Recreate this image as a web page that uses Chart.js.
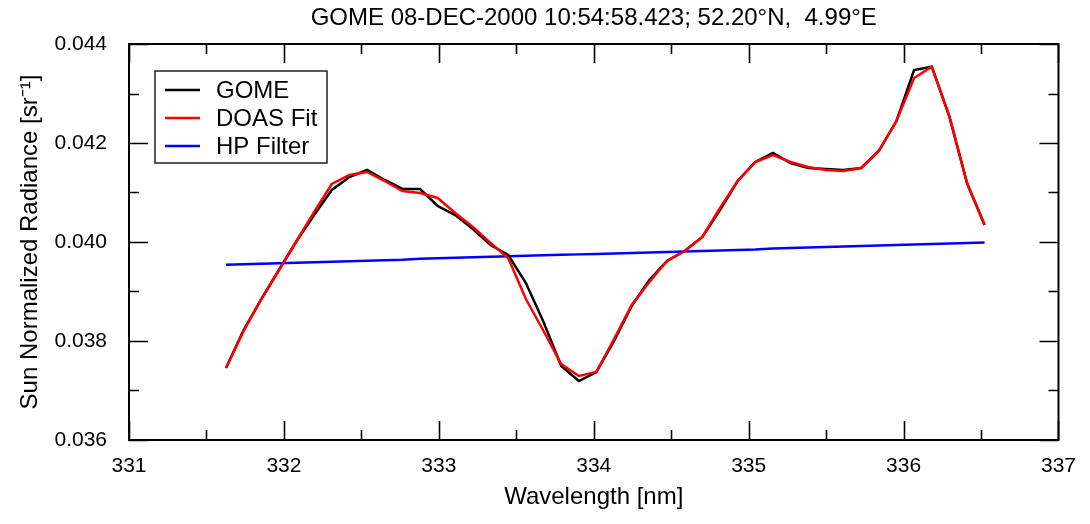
<!DOCTYPE html>
<html lang="en">
<head>
<meta charset="UTF-8">
<title>GOME radiance</title>
<style>
  html, body { margin: 0; padding: 0; background: #fff; }
  #wrap { width: 1090px; height: 524px; }
</style>
</head>
<body>
<div id="wrap"><canvas id="chart" width="1090" height="524"></canvas></div>

<script src="https://cdn.jsdelivr.net/npm/chart.js@4/dist/chart.umd.min.js"></script>
<script>
  const titleText = 'GOME 08-DEC-2000 10:54:58.423; 52.20\u00b0N,  4.99\u00b0E';

  // wavelength grid [nm]
  const wavelength = [
    331.626, 331.740, 331.854, 331.968, 332.082, 332.195, 332.309, 332.423, 332.537, 332.651,
    332.765, 332.879, 332.993, 333.106, 333.220, 333.334, 333.448, 333.562, 333.676, 333.790,
    333.904, 334.017, 334.131, 334.245, 334.359, 334.473, 334.587, 334.701, 334.815, 334.929,
    335.043, 335.157, 335.270, 335.384, 335.498, 335.612, 335.726, 335.840, 335.954, 336.068,
    336.182, 336.296, 336.410, 336.523
  ];

  const gome = [
    0.037455, 0.038222, 0.038848, 0.039434, 0.040020, 0.040545, 0.041051, 0.041313, 0.041455, 0.041253,
    0.041071, 0.041071, 0.040727, 0.040545, 0.040263, 0.039939, 0.039737, 0.039172, 0.038384, 0.037495,
    0.037192, 0.037374, 0.038000, 0.038707, 0.039232, 0.039616, 0.039818, 0.040101, 0.040646, 0.041232,
    0.041616, 0.041798, 0.041596, 0.041495, 0.041475, 0.041455, 0.041495, 0.041838, 0.042444, 0.043475,
    0.043542, 0.042532, 0.041186, 0.040343
  ];

  const doasFit = [
    0.037455, 0.038202, 0.038848, 0.039434, 0.040020, 0.040606, 0.041172, 0.041354, 0.041414, 0.041232,
    0.041030, 0.040990, 0.040889, 0.040586, 0.040303, 0.039980, 0.039677, 0.038848, 0.038202, 0.037535,
    0.037293, 0.037374, 0.038040, 0.038727, 0.039192, 0.039616, 0.039818, 0.040101, 0.040687, 0.041232,
    0.041616, 0.041758, 0.041616, 0.041515, 0.041455, 0.041434, 0.041495, 0.041838, 0.042444, 0.043313,
    0.043542, 0.042532, 0.041186, 0.040343
  ];

  const hpFilter = [
    0.03954, 0.03955, 0.03956, 0.03957, 0.03958, 0.03959, 0.03960, 0.03961, 0.03962, 0.03963,
    0.03964, 0.03966, 0.03967, 0.03968, 0.03969, 0.03970, 0.03971, 0.03972, 0.03973, 0.03974,
    0.03975, 0.03976, 0.03977, 0.03978, 0.03979, 0.03980, 0.03981, 0.03982, 0.03983, 0.03984,
    0.03985, 0.03987, 0.03988, 0.03989, 0.03990, 0.03991, 0.03992, 0.03993, 0.03994, 0.03995,
    0.03996, 0.03997, 0.03998, 0.03999
  ];

  const FONT = '"Liberation Sans", Arial, sans-serif';

  function pts(values) {
    return values.map((v, i) => ({ x: wavelength[i], y: v }));
  }

  // frame, inward major/minor ticks on all four sides, title, legend box
  const decorPlugin = {
    id: 'decor',
    afterDraw(chart) {
      const ctx = chart.ctx;
      const a = chart.chartArea;
      const xs = chart.scales.x, ys = chart.scales.y;
      ctx.save();
      ctx.strokeStyle = '#000';
      ctx.lineWidth = 2;
      ctx.strokeRect(a.left, a.top, a.right - a.left, a.bottom - a.top);

      ctx.lineWidth = 1.6;
      ctx.beginPath();
      const xt = xs.ticks.map(t => t.value);
      xt.forEach((v, i) => {
        const px = Math.round(xs.getPixelForValue(v)) + 0.5;
        ctx.moveTo(px, a.bottom); ctx.lineTo(px, a.bottom - 19);
        ctx.moveTo(px, a.top); ctx.lineTo(px, a.top + 19);
        if (i < xt.length - 1) {
          const pm = Math.round(xs.getPixelForValue((v + xt[i + 1]) / 2)) + 0.5;
          ctx.moveTo(pm, a.bottom); ctx.lineTo(pm, a.bottom - 10);
          ctx.moveTo(pm, a.top); ctx.lineTo(pm, a.top + 10);
        }
      });
      const yt = ys.ticks.map(t => t.value);
      yt.forEach((v, i) => {
        const py = Math.round(ys.getPixelForValue(v)) + 0.5;
        ctx.moveTo(a.left, py); ctx.lineTo(a.left + 19, py);
        ctx.moveTo(a.right, py); ctx.lineTo(a.right - 19, py);
        if (i < yt.length - 1) {
          const pm = Math.round(ys.getPixelForValue((v + yt[i + 1]) / 2)) + 0.5;
          ctx.moveTo(a.left, pm); ctx.lineTo(a.left + 10, pm);
          ctx.moveTo(a.right, pm); ctx.lineTo(a.right - 10, pm);
        }
      });
      ctx.stroke();

      // title
      ctx.fillStyle = '#000';
      ctx.font = '24px ' + FONT;
      ctx.textAlign = 'center';
      ctx.textBaseline = 'middle';
      ctx.fillText(titleText, (a.left + a.right) / 2, 18);

      // legend
      const lx = 155, ly = 71, lw = 172, lh = 92;
      ctx.fillStyle = '#fff';
      ctx.fillRect(lx, ly, lw, lh);
      ctx.strokeStyle = '#222';
      ctx.lineWidth = 1.5;
      ctx.strokeRect(lx, ly, lw, lh);
      ctx.font = '24px ' + FONT;
      ctx.textAlign = 'left';
      chart.data.datasets.forEach((ds, i) => {
        const ry = 90 + i * 28;
        ctx.strokeStyle = ds.borderColor;
        ctx.lineWidth = 2.5;
        ctx.beginPath();
        ctx.moveTo(165, ry); ctx.lineTo(200, ry);
        ctx.stroke();
        ctx.fillStyle = '#000';
        ctx.fillText(ds.label, 216, ry + 1);
      });
      ctx.restore();
    }
  };

  new Chart(document.getElementById('chart'), {
    type: 'line',
    data: {
      datasets: [
        { label: 'GOME', data: pts(gome), borderColor: '#000000', borderWidth: 2.5, order: 2 },
        { label: 'DOAS Fit', data: pts(doasFit), borderColor: '#ff0000', borderWidth: 2.5, order: 1 },
        { label: 'HP Filter', data: pts(hpFilter), borderColor: '#0000ff', borderWidth: 2.5, order: 3 }
      ]
    },
    options: {
      responsive: false,
      animation: false,
      layout: { padding: { top: 44, right: 31, left: 0, bottom: 0 } },
      elements: { point: { radius: 0 }, line: { tension: 0 } },
      plugins: { legend: { display: false }, tooltip: { enabled: false } },
      scales: {
        x: {
          type: 'linear',
          min: 331, max: 337,
          grid: { display: false, drawTicks: false },
          border: { display: false },
          ticks: { stepSize: 1, padding: 14, color: '#000', font: { family: FONT, size: 21 } },
          title: { display: true, text: 'Wavelength [nm]', color: '#000', padding: 12, font: { family: FONT, size: 24 } },
          afterFit(scale) { scale.height = 84; }
        },
        y: {
          min: 0.036, max: 0.044,
          grid: { display: false, drawTicks: false },
          border: { display: false },
          ticks: {
            stepSize: 0.002, padding: 22, color: '#000', font: { family: FONT, size: 21 },
            callback: v => v.toFixed(3)
          },
          title: { display: true, text: 'Sun Normalized Radiance [sr\u207b\u00b9]', color: '#000', padding: 16, font: { family: FONT, size: 24 } },
          afterFit(scale) { scale.width = 129; }
        }
      }
    },
    plugins: [decorPlugin]
  });
</script>
</body>
</html>
